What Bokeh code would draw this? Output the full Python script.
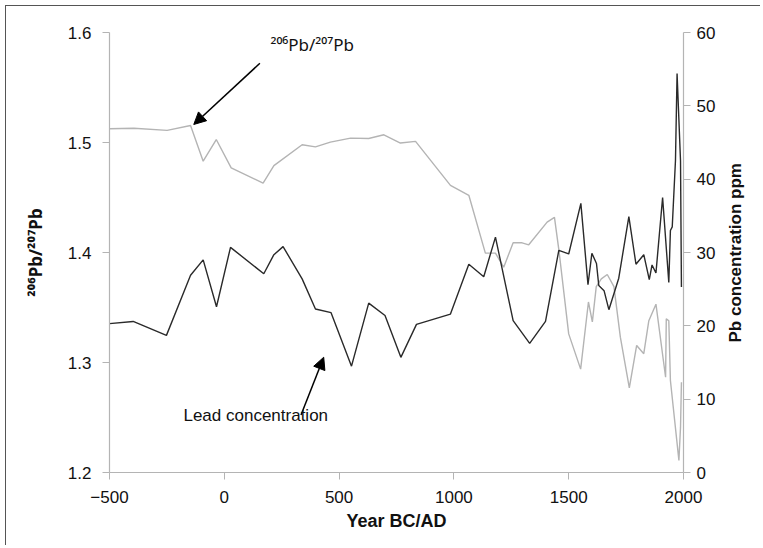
from bokeh.plotting import figure
from bokeh.models import LinearAxis, Range1d, FixedTicker, Arrow, NormalHead, Label
from bokeh.embed import file_html
from bokeh.resources import INLINE
import math

# 206Pb/207Pb ratio (left axis)
ratio_years = [-500, -394, -249, -147, -92, -35, 30, 169, 216, 339,
               397, 462, 550, 629, 695, 767, 833, 985, 1065, 1137,
               1181, 1217, 1258, 1297, 1326, 1406, 1438, 1458, 1500, 1552,
               1586, 1603, 1620, 1642, 1668, 1697, 1725, 1764, 1796, 1827,
               1849, 1880, 1922, 1925, 1936, 1943, 1980, 1987, 1991]
ratio_values = [1.5125, 1.513, 1.511, 1.5155, 1.483, 1.5027, 1.477, 1.463, 1.479, 1.498,
                1.496, 1.5003, 1.504, 1.5036, 1.507, 1.4995, 1.501, 1.461, 1.452, 1.3994,
                1.3994, 1.3867, 1.4088, 1.4088, 1.407, 1.4276, 1.432, 1.401, 1.326, 1.294,
                1.355, 1.337, 1.369, 1.376, 1.38, 1.369, 1.323, 1.277, 1.3155, 1.308,
                1.338, 1.353, 1.2866, 1.3397, 1.338, 1.2836, 1.211, 1.241, 1.282]

# Pb concentration ppm (right axis)
conc_years = [-500, -397, -252, -147, -92, -34, 27, 172, 216, 256,
              339, 397, 465, 554, 629, 700, 769, 837, 985, 1065,
              1130, 1181, 1258, 1330, 1399, 1457, 1500, 1553, 1584, 1601,
              1621, 1631, 1654, 1675, 1718, 1762, 1793, 1827, 1851, 1863,
              1880, 1909, 1936, 1943, 1951, 1965, 1972, 1987, 1991]
conc_values = [20.3, 20.6, 18.7, 26.9, 29.0, 22.6, 30.7, 27.1, 29.7, 30.8,
               26.4, 22.3, 21.8, 14.5, 23.1, 21.4, 15.7, 20.2, 21.6, 28.4,
               26.7, 32.1, 20.7, 17.6, 20.6, 30.3, 29.8, 36.7, 25.6, 29.9,
               28.5, 25.5, 24.8, 22.2, 26.5, 34.9, 28.4, 29.7, 26.3, 28.3,
               27.2, 37.5, 25.9, 33.0, 33.5, 42.5, 54.4, 42.5, 25.3]

x_ticks = [-500, 0, 500, 1000, 1500, 2000]
ratio_ticks = [1.2, 1.3, 1.4, 1.5, 1.6]
conc_ticks = [0, 10, 20, 30, 40, 50, 60]

FONT = "Liberation Sans"
SUP_FONT = "Noto Sans"
AXIS_GREY = "#b4b4b4"
TEXT = "#111111"

p = figure(width=760, height=545, output_backend="svg", toolbar_location=None,
           x_range=Range1d(-500, 2000), y_range=Range1d(1.2, 1.6),
           min_border_left=109, min_border_right=77, min_border_top=32, min_border_bottom=73)
p.extra_y_ranges = {"conc": Range1d(0, 60), "title": Range1d(0, 440)}
p.outline_line_color = None
p.grid.visible = False
p.background_fill_color = "white"
p.border_fill_color = None
p.styles = {"background": "linear-gradient(#555,#555) 5px 5px / 1px 100% no-repeat, "
                          "linear-gradient(#555,#555) 5px 5px / 100% 1px no-repeat, #ffffff"}

p.line(ratio_years, ratio_values, line_color="#b4b4b4", line_width=1.4)
p.line(conc_years, conc_values, line_color="#2a2a2a", line_width=1.4, y_range_name="conc")

right = LinearAxis(y_range_name="conc")
p.add_layout(right, "right")

p.xaxis.ticker = FixedTicker(ticks=x_ticks)
p.yaxis[0].ticker = FixedTicker(ticks=ratio_ticks)
right.ticker = FixedTicker(ticks=conc_ticks)

for ax in [p.xaxis[0], p.yaxis[0], right]:
    ax.axis_line_color = AXIS_GREY
    ax.axis_line_width = 1.2
    ax.major_tick_line_color = AXIS_GREY
    ax.major_tick_out = 7
    ax.major_tick_in = 0
    ax.minor_tick_line_color = None
    ax.major_label_text_font = FONT
    ax.major_label_text_font_size = "17px"
    ax.major_label_text_color = TEXT
    ax.axis_label_text_font = FONT
    ax.axis_label_text_font_size = "17px"
    ax.axis_label_text_font_style = "bold"
    ax.axis_label_text_color = TEXT

p.xaxis[0].axis_label = "Year BC/AD"
p.xaxis[0].major_label_standoff = 11
p.xaxis[0].axis_label_standoff = 5
p.xaxis[0].axis_label_text_font_size = "18px"
p.yaxis[0].axis_label = "²⁰⁶Pb/²⁰⁷Pb"
p.yaxis[0].major_label_standoff = 11
p.yaxis[0].axis_label_standoff = 18
p.yaxis[0].axis_label_text_font = SUP_FONT
p.yaxis[0].axis_label_text_font_size = "17px"
right.major_label_standoff = 6

# right axis title, reading bottom to top, placed as a single rotated label
title_axis = LinearAxis(y_range_name="title", ticker=FixedTicker(ticks=[130]),
                        major_label_overrides={130: "Pb concentration ppm"},
                        major_label_orientation=math.pi / 2,
                        axis_line_color=None, major_tick_line_color=None,
                        minor_tick_line_color=None, major_tick_out=0, major_tick_in=0,
                        major_label_standoff=17,
                        major_label_text_font=FONT, major_label_text_font_size="17px",
                        major_label_text_font_style="bold", major_label_text_color=TEXT)
p.add_layout(title_axis, "right")

p.add_layout(Arrow(end=NormalHead(size=12, fill_color="black", line_color="black"),
                   x_start=155, y_start=1.572, x_end=-133, y_end=1.5164,
                   line_width=1.5, line_color="black"))
p.add_layout(Arrow(end=NormalHead(size=12, fill_color="black", line_color="black"),
                   x_start=334, y_start=1.2523, x_end=433, y_end=1.3048,
                   line_width=1.5, line_color="black"))

p.add_layout(Label(x=201, y=1.579, text="²⁰⁶Pb/²⁰⁷Pb", text_font=SUP_FONT,
                   text_font_size="17px", text_color=TEXT))
p.add_layout(Label(x=-178, y=1.2436, text="Lead concentration", text_font=FONT,
                   text_font_size="17px", text_color=TEXT))

open("out.html", "w").write(file_html(p, INLINE))
